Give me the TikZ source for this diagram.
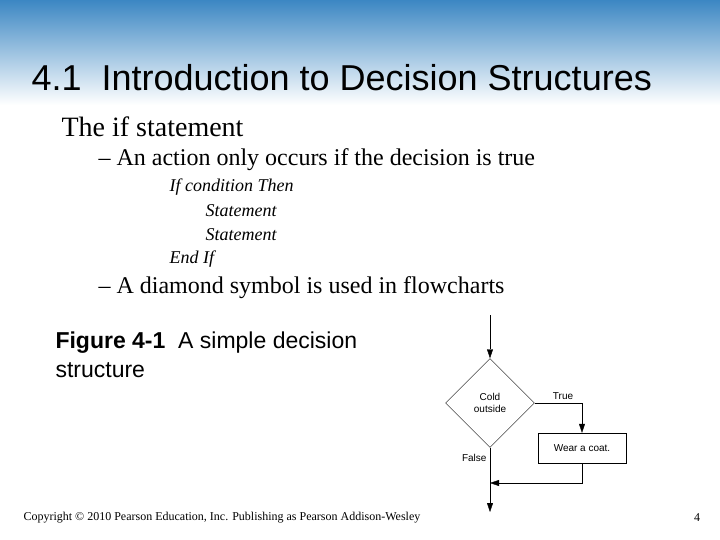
\documentclass[tikz,border=0pt]{standalone}
\usepackage{fontspec}
\setmainfont{Liberation Serif}
\setsansfont{Liberation Sans}
\usetikzlibrary{shapes.geometric,positioning,arrows.meta}
\definecolor{slideblue}{RGB}{60,135,195}
\begin{document}
\begin{tikzpicture}[x=1pt,y=-1pt,
    decision/.style={draw, diamond, aspect=1, minimum width=89pt, minimum height=89pt, inner sep=0pt, align=center, font=\sffamily\fontsize{10}{12}\selectfont},
    process/.style={draw, minimum width=88pt, minimum height=30pt, font=\sffamily\fontsize{10}{12}\selectfont},
    flow/.style={-{Triangle[length=9pt,width=6pt]}, thin},
    lbl/.style={font=\sffamily\fontsize{10}{12}\selectfont}
]
\useasboundingbox (0,0) rectangle (720,540);
\fill[white] (0,0) rectangle (720,540);
\shade[top color=slideblue, bottom color=white] (0,0) rectangle (720,105);

% title and text
\node[anchor=west, font=\sffamily\fontsize{36}{40}\selectfont] (title) at (28,78) {4.1\ \ Introduction to Decision Structures};
\node[anchor=west, font=\fontsize{28}{32}\selectfont] (t1) at (58,127) {The if statement};
\node[anchor=west, font=\fontsize{24}{28}\selectfont] (t2) at (95,160) {-- An action only occurs if the decision is true};
\node[anchor=west, font=\itshape\fontsize{18}{21}\selectfont] (c1) at (166,187) {If condition Then};
\node[anchor=west, font=\itshape\fontsize{18}{21}\selectfont] (c2) at (202,211) {Statement};
\node[anchor=west, font=\itshape\fontsize{18}{21}\selectfont] (c3) at (202,235) {Statement};
\node[anchor=west, font=\itshape\fontsize{18}{21}\selectfont] (c4) at (166,259) {End If};
\node[anchor=west, font=\fontsize{24}{28}\selectfont] (t3) at (95,288) {-- A diamond symbol is used in flowcharts};
\node[anchor=north west, align=left, font=\sffamily\fontsize{23}{29}\selectfont] (cap) at (52,328) {\textbf{Figure 4-1}\ \ A simple decision\\structure};

% flowchart
\coordinate (start) at (490,315);
\node[decision] (cold) at (490,403) {Cold\\outside};
\node[process] (coat) at (582,448) {Wear a coat.};
\coordinate (join) at (490,483);
\coordinate (out) at (490,512);
\draw[flow] (start) -- (cold.north);
\draw[flow] (cold.east) -| node[lbl, pos=0.3, above] {True} (coat.north);
\draw[flow] (coat.south) |- (join);
\draw (cold.south) -- node[lbl, pos=0.3, left] {False} (join);
\draw[flow] (join) -- (out);

% footer
\node[anchor=west, font=\fontsize{12}{14}\selectfont] (copy) at (20,518) {Copyright \textcopyright{} 2010 Pearson Education, Inc. Publishing as Pearson Addison-Wesley};
\node[font=\fontsize{12}{14}\selectfont] (page) at (697,518) {4};
\end{tikzpicture}
\end{document}
